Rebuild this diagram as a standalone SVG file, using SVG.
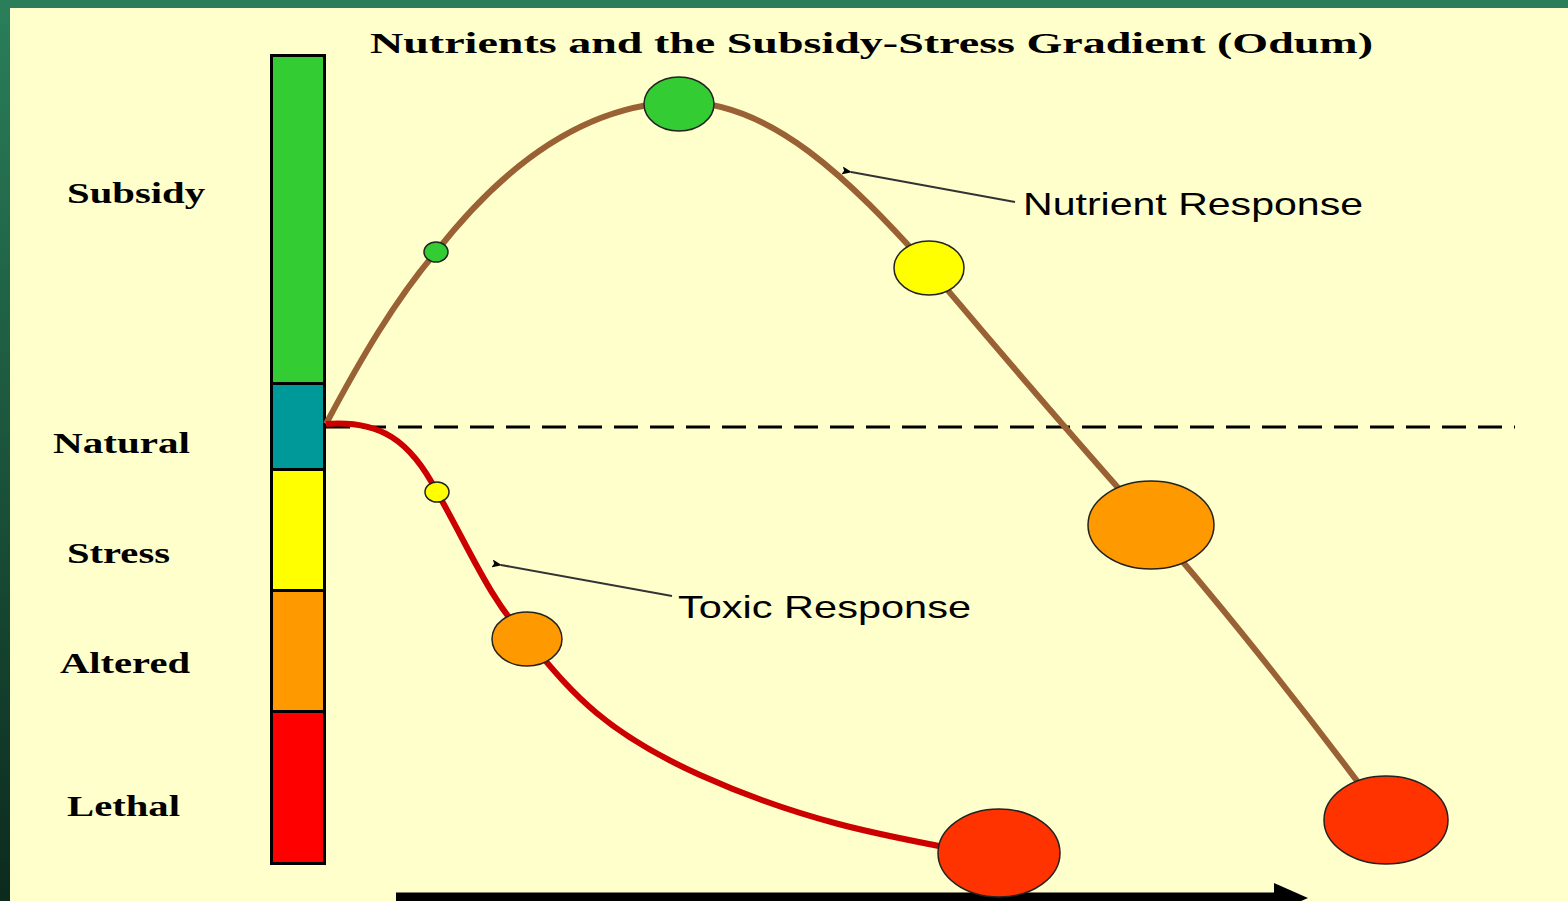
<svg xmlns="http://www.w3.org/2000/svg" width="1568" height="901" viewBox="0 0 1568 901">
<defs>
<linearGradient id="side" x1="0" y1="0" x2="0" y2="1">
<stop offset="0" stop-color="#2a7f5a"/>
<stop offset="1" stop-color="#0c2a1e"/>
</linearGradient>
<marker id="ptr" markerWidth="10" markerHeight="8" refX="1" refY="4" orient="auto" markerUnits="userSpaceOnUse">
<path d="M0,4 L10,0 L8,4 L10,8 Z" fill="#000"/>
</marker>
<marker id="big" markerWidth="34" markerHeight="30" refX="2" refY="15" orient="auto" markerUnits="userSpaceOnUse">
<path d="M0,0 L34,15 L0,30 Z" fill="#000"/>
</marker>
</defs>
<style>
.lbl{font-family:"Liberation Serif",serif;font-weight:bold;font-size:30px;fill:#000}
.rsp{font-family:"Liberation Sans",sans-serif;font-size:32px;fill:#000}
.seg{stroke:#000;stroke-width:3}
.dot{stroke:#222;stroke-width:1.5}
</style>
<rect x="0" y="0" width="1568" height="901" fill="url(#side)"/>
<rect x="10" y="8" width="1558" height="893" fill="#ffffcc"/>
<text x="370" y="53" class="lbl" font-size="34" textLength="1003" lengthAdjust="spacingAndGlyphs">Nutrients and the Subsidy-Stress Gradient (Odum)</text>
<g id="bar">
<rect x="271.5" y="55.5" width="53" height="328" fill="#33cc33" class="seg"/>
<rect x="271.5" y="383.5" width="53" height="86" fill="#009999" class="seg"/>
<rect x="271.5" y="469.5" width="53" height="121" fill="#ffff00" class="seg"/>
<rect x="271.5" y="590.5" width="53" height="121" fill="#ff9900" class="seg"/>
<rect x="271.5" y="711.5" width="53" height="152" fill="#ff0000" class="seg"/>
</g>
<g id="labels">
<text x="67" y="203" class="lbl" textLength="138" lengthAdjust="spacingAndGlyphs">Subsidy</text>
<text x="53" y="453" class="lbl" textLength="137" lengthAdjust="spacingAndGlyphs">Natural</text>
<text x="67" y="563" class="lbl" textLength="103" lengthAdjust="spacingAndGlyphs">Stress</text>
<text x="60" y="673" class="lbl" textLength="130" lengthAdjust="spacingAndGlyphs">Altered</text>
<text x="67" y="816" class="lbl" textLength="113" lengthAdjust="spacingAndGlyphs">Lethal</text>
</g>
<g id="connectors">
<line x1="326" y1="427" x2="1515" y2="427" stroke="#000" stroke-width="3" stroke-dasharray="24,12" stroke-dashoffset="-72"/>
<path d="M326,424 C360,360 395,300 436,252 C500,170 580,105 679,102 C770,100 850,180 929,268 C990,340 1040,400 1151,525 C1230,615 1320,730 1386,820" fill="none" stroke="#9a6234" stroke-width="6"/>
<path d="M326,424 C380,420 410,440 437,492 C470,550 490,600 527,639 C570,690 600,730 700,775 C800,820 880,835 960,850" fill="none" stroke="#cc0000" stroke-width="6"/>
<line x1="1015" y1="202" x2="851" y2="172" stroke="#333" stroke-width="2" marker-end="url(#ptr)"/>
<line x1="672" y1="596" x2="501" y2="565" stroke="#333" stroke-width="2" marker-end="url(#ptr)"/>
<line x1="396" y1="898" x2="1276" y2="898" stroke="#000" stroke-width="11" marker-end="url(#big)"/>
</g>
<g id="n-green-small"><ellipse cx="436" cy="252" rx="12" ry="10" fill="#33cc33" class="dot"/></g>
<g id="n-green-big"><ellipse cx="679" cy="104" rx="35" ry="27" fill="#33cc33" class="dot"/></g>
<g id="n-yellow"><ellipse cx="929" cy="268" rx="35" ry="27" fill="#ffff00" class="dot"/></g>
<g id="n-orange-big"><ellipse cx="1151" cy="525" rx="63" ry="44" fill="#ff9900" class="dot"/></g>
<g id="n-red-right"><ellipse cx="1386" cy="820" rx="62" ry="44" fill="#ff3300" class="dot"/></g>
<g id="n-yellow-small"><ellipse cx="437" cy="492" rx="12" ry="10" fill="#ffff00" class="dot"/></g>
<g id="n-orange-small"><ellipse cx="527" cy="639" rx="35" ry="27" fill="#ff9900" class="dot"/></g>
<g id="n-red-bottom"><ellipse cx="999" cy="853" rx="61" ry="44" fill="#ff3300" class="dot"/></g>
<g id="t-nutrient"><text x="1023" y="215" class="rsp" textLength="340" lengthAdjust="spacingAndGlyphs">Nutrient Response</text></g>
<g id="t-toxic"><text x="678" y="618" class="rsp" textLength="293" lengthAdjust="spacingAndGlyphs">Toxic Response</text></g>
</svg>
